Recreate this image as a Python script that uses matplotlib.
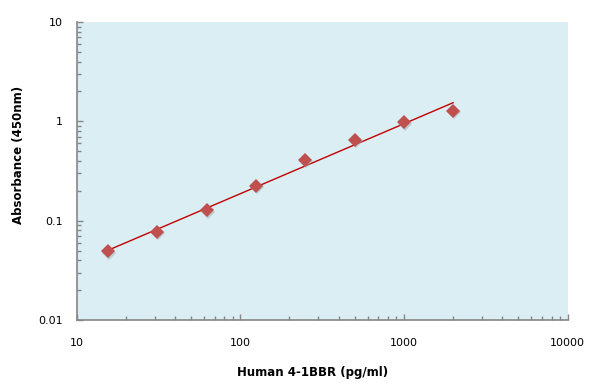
import numpy as np
import matplotlib
matplotlib.use('Agg')
import matplotlib.pyplot as plt
from matplotlib.ticker import LogLocator, NullFormatter, FixedLocator, FixedFormatter

# dados da curva padrão
concentracao = [15.6, 31.25, 62.5, 125, 250, 500, 1000, 2000]
absorbancia = [0.049, 0.077, 0.128, 0.225, 0.41, 0.65, 0.98, 1.28]

x_ticks = [10, 100, 1000, 10000]
x_tick_labels = ['10', '100', '1000', '10000']
y_ticks = [0.01, 0.1, 1, 10]
y_tick_labels = ['0.01', '0.1', '1', '10']

# ajuste de potência (como a linha de tendência do Excel)
coef = np.polyfit(np.log10(concentracao), np.log10(absorbancia), 1)
x_fit = np.logspace(np.log10(concentracao[0]), np.log10(concentracao[-1]), 50)
y_fit = 10 ** np.polyval(coef, np.log10(x_fit))

fig = plt.figure(figsize=(5.96, 3.91), dpi=100)
ax = fig.add_axes([76.5 / 596, 71 / 391, 491 / 596, 298 / 391])
ax.set_facecolor('#DBEEF4')

ax.set_xscale('log')
ax.set_yscale('log')
ax.set_xlim(10, 10000)
ax.set_ylim(0.01, 10)

ax.plot(x_fit, y_fit, color='#C00000', lw=1.0, zorder=2)
# sombra dos marcadores
sombra = ax.transData + matplotlib.transforms.ScaledTranslation(1 / 100, -1.5 / 100, fig.dpi_scale_trans)
ax.plot(concentracao, absorbancia, 'D', ms=7.5, color='#9AA9B0', alpha=0.5,
        markeredgewidth=0, zorder=2, transform=sombra)
ax.plot(concentracao, absorbancia, 'D', ms=7.5, color='#C0504D',
        markeredgewidth=0, zorder=3)

for s in ['top', 'right']:
    ax.spines[s].set_visible(False)
for s in ['left', 'bottom']:
    ax.spines[s].set_color('#868686')
    ax.spines[s].set_linewidth(1.2)

ax.xaxis.set_major_locator(FixedLocator(x_ticks))
ax.xaxis.set_major_formatter(FixedFormatter(x_tick_labels))
ax.yaxis.set_major_locator(FixedLocator(y_ticks))
ax.yaxis.set_major_formatter(FixedFormatter(y_tick_labels))
ax.xaxis.set_minor_locator(LogLocator(base=10, subs=np.arange(2, 10)))
ax.yaxis.set_minor_locator(LogLocator(base=10, subs=np.arange(2, 10)))
ax.xaxis.set_minor_formatter(NullFormatter())
ax.yaxis.set_minor_formatter(NullFormatter())

ax.tick_params(which='major', direction='in', length=4, width=1, color='#868686',
               labelsize=8, labelcolor='black')
ax.tick_params(which='minor', direction='in', length=3, width=1, color='#868686')
ax.tick_params(axis='x', which='major', pad=13)
ax.tick_params(axis='y', which='major', pad=10)

ax.set_xlabel('Human 4-1BBR (pg/ml)', fontsize=8.5, fontweight='bold')
ax.set_ylabel('Absorbance (450nm)', fontsize=8.5, fontweight='bold')
ax.xaxis.set_label_coords(0.48, -0.155)
ax.yaxis.set_label_coords(-0.105, 0.555)

fig.savefig('out.png', dpi=100)
